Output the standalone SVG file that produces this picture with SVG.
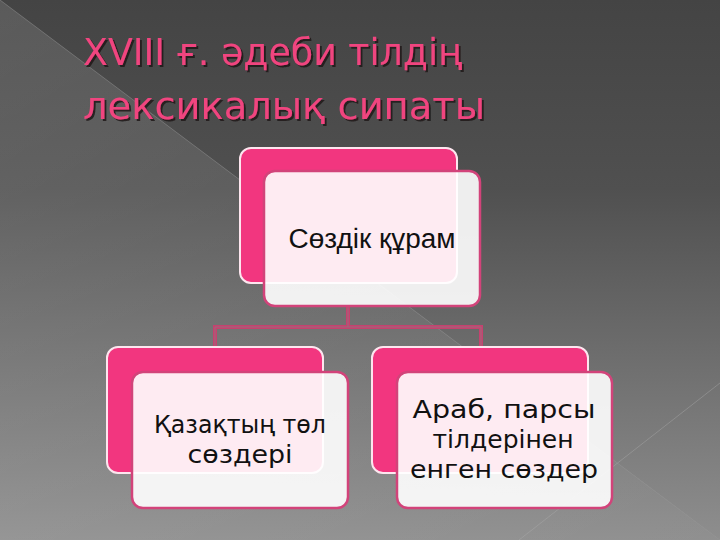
<svg xmlns="http://www.w3.org/2000/svg" width="720" height="540" viewBox="0 0 720 540">
<defs>
<linearGradient id="bg" x1="0" y1="0" x2="0" y2="1">
<stop offset="0" stop-color="#444444"/>
<stop offset="0.35" stop-color="#505050"/>
<stop offset="1" stop-color="#8e8e8e"/>
</linearGradient>
<linearGradient id="tri" x1="0" y1="0" x2="1" y2="1">
<stop offset="0" stop-color="#ffffff" stop-opacity="0.12"/>
<stop offset="1" stop-color="#ffffff" stop-opacity="0.02"/>
</linearGradient>
<filter id="shadow" x="-5%" y="-20%" width="110%" height="150%">
<feDropShadow dx="2" dy="2" stdDeviation="0.6" flood-color="#1e1418" flood-opacity="0.85"/>
</filter>
<style>
.back{fill:#f2367f;stroke:#fde6ef;stroke-width:2}
.front{fill:#ffffff;fill-opacity:0.9;stroke:#d2437a;stroke-width:2.5}
.conn{fill:none;stroke:#c5426f;stroke-width:4}
.conn2{fill:none;stroke:#9c6a7c;stroke-width:1}
.title{font-family:"DejaVu Sans","Noto Sans",sans-serif;font-size:38px;fill:#f0447f;filter:url(#shadow)}
.lbl{font-family:"Liberation Sans",Arial,sans-serif;font-size:27px;fill:#111111;text-anchor:middle}
.lbl2{font-family:"DejaVu Sans","Noto Sans",sans-serif;font-size:25px;fill:#111111;text-anchor:middle}
</style>
</defs>
<rect x="0" y="0" width="720" height="540" fill="url(#bg)"/>
<polygon points="0,0 720,540 0,540" fill="url(#tri)"/>
<line x1="0" y1="0" x2="720" y2="540" stroke="#9a9a9a" stroke-opacity="0.45" stroke-width="1"/>
<line x1="720" y1="383" x2="519" y2="540" stroke="#b0b0b0" stroke-opacity="0.4" stroke-width="1"/>

<g id="title">
<text class="title" x="83" y="65" textLength="379" lengthAdjust="spacingAndGlyphs">XVIII ғ. әдеби тілдің</text>
<text class="title" x="83" y="119" textLength="402" lengthAdjust="spacingAndGlyphs">лексикалық сипаты</text>
</g>

<g id="connectors">
<path class="conn" d="M348,307 V327 M215,347 V327 H481 V347"/>
<path class="conn2" d="M348,307 V327 M215,347 V327 H481 V347"/>
</g>

<g id="node-top">
<rect class="back" x="240" y="148" width="217" height="135" rx="11"/>
<rect class="front" x="264" y="171" width="216" height="135" rx="11"/>
<text class="lbl" x="372" y="248" textLength="167" lengthAdjust="spacingAndGlyphs">Сөздік құрам</text>
</g>

<g id="node-left">
<rect class="back" x="107" y="347" width="216" height="126" rx="11"/>
<rect class="front" x="132" y="372" width="216" height="136" rx="11"/>
<text class="lbl2" x="240" y="433" textLength="172" lengthAdjust="spacingAndGlyphs">Қазақтың төл</text>
<text class="lbl2" x="240" y="463" textLength="105" lengthAdjust="spacingAndGlyphs">сөздері</text>
</g>

<g id="node-right">
<rect class="back" x="372" y="347" width="216" height="126" rx="11"/>
<rect class="front" x="397" y="372" width="215" height="136" rx="11"/>
<text class="lbl2" x="504" y="418" textLength="183" lengthAdjust="spacingAndGlyphs">Араб, парсы</text>
<text class="lbl2" x="503" y="448" textLength="141" lengthAdjust="spacingAndGlyphs">тілдерінен</text>
<text class="lbl2" x="504" y="478" textLength="188" lengthAdjust="spacingAndGlyphs">енген сөздер</text>
</g>
</svg>
